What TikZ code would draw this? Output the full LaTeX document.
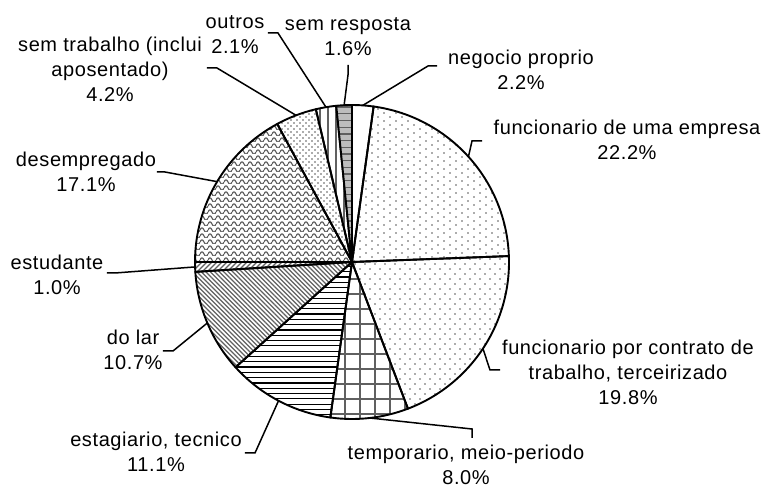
\documentclass[tikz,border=0pt]{standalone}
\usepackage{fontspec}
\setmainfont{Liberation Sans}[LetterSpace=3]
\usetikzlibrary{patterns}

% fill patterns of the slices
\pgfdeclarepatternformonly{sparsedots}{\pgfqpoint{-1pt}{-1pt}}{\pgfqpoint{12pt}{8pt}}{\pgfqpoint{12pt}{8pt}}{
	\pgfpathcircle{\pgfqpoint{0pt}{0pt}}{0.9pt}
	\pgfpathcircle{\pgfqpoint{6pt}{4pt}}{0.9pt}
	\pgfusepath{fill}}
\pgfdeclarepatternformonly{mediumdots}{\pgfqpoint{-1pt}{-1pt}}{\pgfqpoint{10pt}{10pt}}{\pgfqpoint{10pt}{10pt}}{
	\pgfpathcircle{\pgfqpoint{0pt}{0pt}}{0.85pt}
	\pgfpathcircle{\pgfqpoint{5pt}{5pt}}{0.85pt}
	\pgfusepath{fill}}
\pgfdeclarepatternformonly{densedots}{\pgfqpoint{-1pt}{-1pt}}{\pgfqpoint{6pt}{6pt}}{\pgfqpoint{6pt}{6pt}}{
	\pgfpathcircle{\pgfqpoint{0pt}{0pt}}{0.8pt}
	\pgfpathcircle{\pgfqpoint{3pt}{3pt}}{0.8pt}
	\pgfusepath{fill}}
\pgfdeclarepatternformonly{waves}{\pgfqpoint{0pt}{-1pt}}{\pgfqpoint{8pt}{5pt}}{\pgfqpoint{8pt}{6pt}}{
	\pgfsetlinewidth{1.2pt}
	\pgfpathmoveto{\pgfqpoint{0pt}{1pt}}
	\pgfpathcurveto{\pgfqpoint{1.3pt}{3.8pt}}{\pgfqpoint{2.7pt}{3.8pt}}{\pgfqpoint{4pt}{1pt}}
	\pgfpathcurveto{\pgfqpoint{5.3pt}{-1.8pt}}{\pgfqpoint{6.7pt}{-1.8pt}}{\pgfqpoint{8pt}{1pt}}
	\pgfusepath{stroke}}
\pgfdeclarepatternformonly{nwlines}{\pgfqpoint{-1pt}{-1pt}}{\pgfqpoint{5.5pt}{5.5pt}}{\pgfqpoint{4.5pt}{4.5pt}}{
	\pgfsetlinewidth{1.2pt}
	\pgfpathmoveto{\pgfqpoint{0pt}{4.5pt}}
	\pgfpathlineto{\pgfqpoint{4.5pt}{0pt}}
	\pgfusepath{stroke}}
\pgfdeclarepatternformonly{nelines}{\pgfqpoint{-1pt}{-1pt}}{\pgfqpoint{6pt}{6pt}}{\pgfqpoint{5pt}{5pt}}{
	\pgfsetlinewidth{1.2pt}
	\pgfpathmoveto{\pgfqpoint{0pt}{0pt}}
	\pgfpathlineto{\pgfqpoint{5pt}{5pt}}
	\pgfusepath{stroke}}
\pgfdeclarepatternformonly{hlines}{\pgfqpoint{-1pt}{-1pt}}{\pgfqpoint{6.3pt}{6.3pt}}{\pgfqpoint{5.3pt}{5.3pt}}{
	\pgfsetlinewidth{1.2pt}
	\pgfpathmoveto{\pgfqpoint{-1pt}{0pt}}
	\pgfpathlineto{\pgfqpoint{6.3pt}{0pt}}
	\pgfusepath{stroke}}
\pgfdeclarepatternformonly{widehlines}{\pgfqpoint{-1pt}{-1pt}}{\pgfqpoint{7.7pt}{7.7pt}}{\pgfqpoint{6.7pt}{6.7pt}}{
	\pgfsetlinewidth{1.3pt}
	\pgfpathmoveto{\pgfqpoint{-1pt}{0pt}}
	\pgfpathlineto{\pgfqpoint{7.7pt}{0pt}}
	\pgfusepath{stroke}}
\pgfdeclarepatternformonly{vlines}{\pgfqpoint{-1pt}{-1pt}}{\pgfqpoint{9pt}{9pt}}{\pgfqpoint{8pt}{8pt}}{
	\pgfsetlinewidth{1.6pt}
	\pgfpathmoveto{\pgfqpoint{0pt}{-1pt}}
	\pgfpathlineto{\pgfqpoint{0pt}{9pt}}
	\pgfusepath{stroke}}
\pgfdeclarepatternformonly{gridlines}{\pgfqpoint{-1pt}{-1pt}}{\pgfqpoint{16pt}{16pt}}{\pgfqpoint{15pt}{15pt}}{
	\pgfsetlinewidth{1.4pt}
	\pgfpathmoveto{\pgfqpoint{0pt}{-1pt}}
	\pgfpathlineto{\pgfqpoint{0pt}{16pt}}
	\pgfpathmoveto{\pgfqpoint{-1pt}{0pt}}
	\pgfpathlineto{\pgfqpoint{16pt}{0pt}}
	\pgfusepath{stroke}}

\definecolor{dotgray}{HTML}{5A5A5A}
\definecolor{linegray}{HTML}{606060}
\definecolor{slicegray}{HTML}{BDBDBD}

\begin{document}
\begin{tikzpicture}[x=1pt,y=1pt,
	slice/.style={draw=black,line width=1.9pt,line join=round},
	lbl/.style={align=center,inner sep=0pt,font=\fontsize{20}{25}\selectfont},
	leader/.style={draw=black,line width=1.5pt}]
	\useasboundingbox (-352,-227) rectangle (416,262);

	% slices, clockwise from the top
	\draw[slice] (0,0) -- (82.08:157) arc[start angle=82.08,end angle=90,radius=157] -- cycle;
	\draw[slice,pattern=sparsedots,pattern color=dotgray] (0,0) -- (2.16:157) arc[start angle=2.16,end angle=82.08,radius=157] -- cycle;
	\draw[slice,pattern=mediumdots,pattern color=dotgray] (0,0) -- (-69.12:157) arc[start angle=-69.12,end angle=2.16,radius=157] -- cycle;
	\draw[slice,pattern=gridlines,pattern color=linegray] (0,0) -- (-97.92:157) arc[start angle=-97.92,end angle=-69.12,radius=157] -- cycle;
	\draw[slice,pattern=hlines,pattern color=black] (0,0) -- (-137.88:157) arc[start angle=-137.88,end angle=-97.92,radius=157] -- cycle;
	\draw[slice,pattern=nwlines,pattern color=linegray] (0,0) -- (-176.4:157) arc[start angle=-176.4,end angle=-137.88,radius=157] -- cycle;
	\draw[slice,pattern=nelines,pattern color=linegray] (0,0) -- (180:157) arc[start angle=180,end angle=183.6,radius=157] -- cycle;
	\draw[slice,pattern=waves,pattern color=linegray] (0,0) -- (118.44:157) arc[start angle=118.44,end angle=180,radius=157] -- cycle;
	\draw[slice,pattern=densedots,pattern color=dotgray] (0,0) -- (103.32:157) arc[start angle=103.32,end angle=118.44,radius=157] -- cycle;
	\draw[slice,pattern=vlines,pattern color=linegray] (0,0) -- (95.76:157) arc[start angle=95.76,end angle=103.32,radius=157] -- cycle;
	\draw[slice,preaction={fill=slicegray},pattern=widehlines,pattern color=linegray] (0,0) -- (90:157) arc[start angle=90,end angle=95.76,radius=157] -- cycle;

	% labels
	\node (NP) at (169,192)  [lbl] {negocio proprio\\2.2\%};
	\node (FE) at (275,122)  [lbl] {funcionario de uma empresa\\22.2\%};
	\node (FC) at (276,-110) [lbl] {funcionario por contrato de\\trabalho, terceirizado\\19.8\%};
	\node (TP) at (114,-203) [lbl] {temporario, meio-periodo\\8.0\%};
	\node (ET) at (-196,-190)[lbl] {estagiario, tecnico\\11.1\%};
	\node (DL) at (-219,-88) [lbl] {do lar\\10.7\%};
	\node (ES) at (-295,-13) [lbl] {estudante\\1.0\%};
	\node (DE) at (-266,90)  [lbl] {desempregado\\17.1\%};
	\node (ST) at (-242,193) [lbl] {sem trabalho (inclui\\aposentado)\\4.2\%};
	\node (OU) at (-117,227) [lbl] {outros\\2.1\%};
	\node (SR) at (-4,225)   [lbl] {sem resposta\\1.6\%};

	% leader lines
	\coordinate (NPa) at (86.04:157);   \coordinate (NPb) at (76,196);    \coordinate (NPc) at (85,196);
	\coordinate (FEa) at (42.12:157);   \coordinate (FEb) at (120,121);   \coordinate (FEc) at (130,121);
	\coordinate (FCa) at (-33.48:157);  \coordinate (FCb) at (138,-108);  \coordinate (FCc) at (148,-108);
	\coordinate (TPa) at (-83.52:157);  \coordinate (TPb) at (120,-167);  \coordinate (TPc) at (120,-176);
	\coordinate (ETa) at (-117.9:157);  \coordinate (ETb) at (-97,-191);  \coordinate (ETc) at (-107,-191);
	\coordinate (DLa) at (-157.14:157); \coordinate (DLb) at (-179,-89);  \coordinate (DLc) at (-189,-89);
	\coordinate (ESa) at (181.8:157);   \coordinate (ESb) at (-237,-11);  \coordinate (ESc) at (-245,-11);
	\coordinate (DEa) at (149.22:157);  \coordinate (DEb) at (-187,90);   \coordinate (DEc) at (-195,90);
	\coordinate (STa) at (110.88:157);  \coordinate (STb) at (-135,194);  \coordinate (STc) at (-145,194);
	\coordinate (OUa) at (99.54:157);   \coordinate (OUb) at (-74,229);   \coordinate (OUc) at (-84,229);
	\coordinate (SRa) at (92.88:157);   \coordinate (SRb) at (-4,187);    \coordinate (SRc) at (-4,197);
	\draw[leader] (NPa) -- (NPb) -- (NPc);
	\draw[leader] (FEa) -- (FEb) -- (FEc);
	\draw[leader] (FCa) -- (FCb) -- (FCc);
	\draw[leader] (TPa) -- (TPb) -- (TPc);
	\draw[leader] (ETa) -- (ETb) -- (ETc);
	\draw[leader] (DLa) -- (DLb) -- (DLc);
	\draw[leader] (ESa) -- (ESb) -- (ESc);
	\draw[leader] (DEa) -- (DEb) -- (DEc);
	\draw[leader] (STa) -- (STb) -- (STc);
	\draw[leader] (OUa) -- (OUb) -- (OUc);
	\draw[leader] (SRa) -- (SRb) -- (SRc);
\end{tikzpicture}
\end{document}
